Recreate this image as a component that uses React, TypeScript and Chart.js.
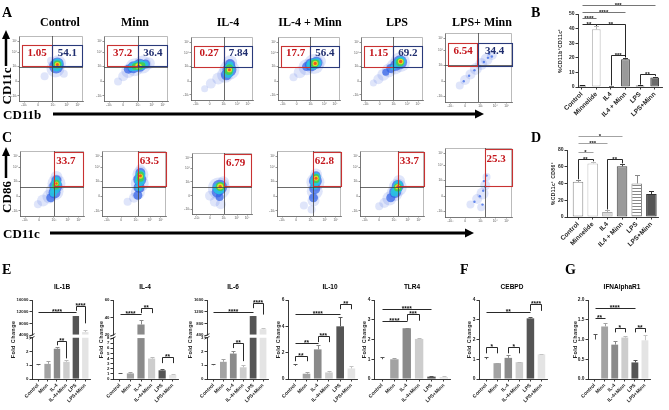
import React, { useEffect, useRef } from 'react';
import { Chart, registerables } from 'chart.js';

Chart.register(...registerables);

const SANS = '"Liberation Sans", Arial, sans-serif';
const SERIF = '"Liberation Serif", "Times New Roman", serif';

/* ======================= DATA ======================= */
// ---- Panel A : CD11b x CD11c flow plots
const aTitles = ['Control', 'Minn', 'IL-4', 'IL-4 + Minn', 'LPS', 'LPS+ Minn'];
const aRedValues = ['1.05', '37.2', '0.27', '17.7', '1.15', '6.54'];
const aBlueValues = ['54.1', '36.4', '7.84', '56.4', '69.2', '34.4'];
const aQuadX = [52, 53.5, 53.5, 52, 52, 49];
const aQuadY = [53, 53, 53, 53, 53, 53];
// ---- Panel C : CD11c x CD86 flow plots
const cRedValues = ['33.7', '63.5', '6.79', '62.8', '33.7', '25.3'];
const cQuadX = [53.5, 56, 53.5, 56, 59, 59];
const cQuadY = [45, 45, 45, 45, 45, 45];
const flowTickPos = [8, 30, 53, 75, 92];
const flowTickLabels = ['-10³', '0', '10³', '10⁴', '10⁵'];

// density blobs: [x %, y %, radius, density level]
type Blob = [number, number, number, number];
const aDensity: Blob[][] = [
  [[40,38,4,0],[70,42,4,0],[50,62,4,0],[57,50,9,0],[61,58,8,0],[58,53,7,1],[60,57,6.5,1],[59,54,5.5,2],[60,57,5.5,2],[60,56,4,3],[60,56,2.6,4],[60,56,1.5,5]],
  [[22,30,4,0],[30,38,5,0],[38,46,7,0],[48,52,9,0],[60,56,9,0],[70,58,6,0],[38,49,4.5,1],[46,52,6,1],[56,55,6.5,1],[65,57,4.5,1],[44,52,4,2],[51,54,5,2],[58,55,5,2],[64,56,3.5,2],[49,53,3.5,3],[55,54,4,3],[60,55,3,3],[53,54,2.6,4],[56,54,2,4],[54,54,1.5,5]],
  [[22,18,3.5,0],[32,26,5,0],[44,34,6,0],[55,40,8,0],[62,48,10,0],[63,60,7,0],[57,40,5.5,1],[62,48,7,1],[63,57,5,1],[60,43,5,2],[62,50,5.5,2],[63,56,3.5,2],[61,46,4,3],[62,51,3.5,3],[62,48,2.6,4],[62,48,1.5,5]],
  [[25,36,4,0],[35,44,6,0],[46,52,8,0],[58,57,10,0],[66,61,7,0],[46,53,4.5,1],[54,56,6.5,1],[62,59,6,1],[52,56,4,2],[57,57,5.5,2],[63,59,4.5,2],[59,58,4,3],[62,59,3,3],[60,58,2.6,4],[60,58,1.6,5]],
  [[20,27,3.5,0],[28,33,5,0],[36,40,6,0],[45,47,7,0],[54,53,8,0],[63,60,10,0],[40,44,3.5,1],[48,50,4.5,1],[56,55,5.5,1],[63,60,7,1],[52,52,3,2],[60,58,5,2],[64,61,5,2],[63,60,4,3],[64,61,2.8,4],[64,61,1.7,5]],
  [[22,24,4,0],[30,32,5,0],[38,40,5,0],[46,48,6,0],[54,55,6,0],[62,62,6,0],[70,68,5,0],[28,30,1.2,1],[36,38,1.2,1],[44,46,1.2,1],[52,52,1.2,1],[58,58,1.2,1],[64,64,1.2,1],[70,66,1.2,1],[66,70,1.2,1]],
];
const cDensity: Blob[][] = [
  [[28,18,4,0],[36,24,6,0],[46,30,7,0],[54,38,9,0],[57,50,9,0],[57,60,6,0],[48,28,4.5,1],[54,36,6,1],[56,46,6.5,1],[57,55,5,1],[52,35,3.5,2],[55,42,5,2],[57,50,5,2],[57,56,3,2],[56,46,3.5,3],[57,51,3,3],[57,50,2,4],[57,50,1.2,5]],
  [[40,22,4,0],[50,28,5,0],[56,36,7,0],[59,50,9,0],[60,64,8,0],[60,72,5,0],[56,32,4.5,1],[58,44,5.5,1],[59,56,6.5,1],[60,66,5,1],[58,44,3.5,2],[59,54,5,2],[60,63,5,2],[60,58,3.5,3],[60,63,3.5,3],[60,61,2.5,4],[60,62,1.5,5]],
  [[30,30,5,0],[38,20,5,0],[48,16,5,0],[45,42,11,0],[52,52,6,0],[42,36,5.5,1],[46,44,7.5,1],[46,28,4,1],[45,42,6,2],[48,46,4,2],[47,45,4.5,3],[47,45,3,4],[47,45,1.6,5]],
  [[42,16,4,0],[54,10,4,0],[57,24,6,0],[59,38,8,0],[60,52,9,0],[61,64,6,0],[57,28,4.5,1],[59,42,5.5,1],[60,54,6.5,1],[61,62,4.5,1],[59,46,3.5,2],[60,53,5,2],[61,60,4.5,2],[61,56,3.5,3],[61,60,3,3],[61,58,2.5,4],[61,58,1.5,5]],
  [[30,15,4,0],[38,20,5,0],[46,27,7,0],[54,35,8,0],[59,44,9,0],[61,54,6,0],[48,28,4.5,1],[55,37,6,1],[59,46,6,1],[54,36,4,2],[58,42,5,2],[60,48,4.5,2],[59,44,4,3],[59,45,2.6,4],[59,45,1.5,5]],
  [[38,18,4,0],[48,26,5,0],[56,34,6,0],[60,46,5,0],[62,58,4,0],[54,14,4,0],[44,22,1.2,1],[52,30,1.2,1],[57,38,1.2,1],[60,44,1.2,1],[58,52,1.2,1],[62,60,1.2,1],[56,18,1.2,1]],
];

// ---- Panels B / D
const bdCategories = ['Control', 'Minnelide', 'IL4', 'IL4 + Minn', 'LPS', 'LPS+Minn'];
const bValues = [1.0, 39.5, 0.3, 19.0, 1.0, 6.5];
const bErrors = [0.3, 2.0, 0.1, 0.8, 0.2, 0.6];
const bTicks = [0, 10, 20, 30, 40, 50];
const dValues = [42, 64, 6, 60.5, 40, 27.5];
const dErrors = [2, 2, 2, 3, 10, 3];
const dTicks = [0, 20, 40, 60, 80];

type Bracket = { a: number; b: number; y: number; d1?: number; d2?: number; t: string; c?: string };
const bBrackets: Bracket[] = [
  { a: 0, b: 5, y: 56, t: '***', c: '#666' },
  { a: 0, b: 3, y: 51.5, t: '****', c: '#666' },
  { a: 0, b: 1, y: 47, t: '****', c: '#666' },
  { a: 0, b: 1, y: 43, d2: 41.8, t: '**' },
  { a: 1, b: 3, y: 43, d2: 20.5, t: '**' },
  { a: 2, b: 3, y: 22, d1: 1, d2: 20.2, t: '***' },
  { a: 4, b: 5, y: 8.7, d1: 1.6, d2: 7.4, t: '**' },
];
const dBrackets: Bracket[] = [
  { a: 0, b: 3, y: 97, t: '*', c: '#999' },
  { a: 0, b: 2, y: 88, t: '***', c: '#999' },
  { a: 0, b: 1, y: 78, t: '*', c: '#999' },
  { a: 0, b: 1, y: 69, d1: 45, d2: 66.5, t: '**' },
  { a: 2, b: 3, y: 69, d1: 9, d2: 64, t: '**' },
];

// ---- Panels E / F / G (qPCR fold change)
const qCategories = ['Control', 'Minn', 'IL-4', 'IL-4+Minn', 'LPS', 'LPS+Minn'];
const il1bValues = [1, 1.1, 2.2, 1.25, 10500, 5000];
const il1bErrors = [0.12, 0.22, 0.15, 0.15, 150, 700];
const il1bLowTicks = [0, 1, 2, 3];
const il1bHighTicks = [4000, 8000, 12000, 16000];
const il1bBrackets: Bracket[] = [
  { a: 0, b: 4, y: 12000, t: '****' },
  { a: 4, b: 5, y: 14000, d1: 12300, d2: 8000, t: '****' },
  { a: 2, b: 3, y: 2.75, d1: 2.45, d2: 1.5, t: '**' },
];
const il4Values = [1, 1.1, 32, 4.0, 1.7, 0.8];
const il4Errors = [0.1, 0.35, 5, 0.3, 0.25, 0.25];
const il4LowTicks = [0, 1, 2, 3, 4, 5, 6, 7, 8];
const il4HighTicks = [20, 40, 60];
const il4Brackets: Bracket[] = [
  { a: 0, b: 2, y: 44, t: '****' },
  { a: 2, b: 3, y: 51, d1: 45, d2: 45, t: '**' },
  { a: 4, b: 5, y: 4.3, d1: 3.1, d2: 3.1, t: '**' },
];
const il6Values = [1, 1.25, 1.85, 0.85, 1050, 600];
const il6Errors = [0.12, 0.17, 0.2, 0.15, 12, 35];
const il6LowTicks = [0, 1, 2, 3];
const il6HighTicks = [400, 800, 1200, 1600];
const il6Brackets: Bracket[] = [
  { a: 0, b: 4, y: 1200, t: '****' },
  { a: 4, b: 5, y: 1500, d1: 1320, d2: 1100, t: '****' },
  { a: 2, b: 3, y: 2.6, d1: 2.25, d2: 1.3, t: '**' },
];
const il10Values = [1, 0.4, 2.25, 0.5, 4.0, 0.8];
const il10Errors = [0.12, 0.1, 0.3, 0.1, 0.7, 0.2];
const il10Ticks = [0, 2, 4, 6];
const il10Brackets: Bracket[] = [
  { a: 0, b: 4, y: 4.95, t: '****' },
  { a: 4, b: 5, y: 5.7, d1: 5.3, d2: 5.3, t: '**' },
  { a: 0, b: 2, y: 2.75, t: '**' },
  { a: 2, b: 3, y: 3.3, d1: 2.8, d2: 2.8, t: '***' },
  { a: 0, b: 1, y: 1.75, d1: 1.35, d2: 1.35, t: '**' },
];
const tlr4Values = [1, 1.0, 2.57, 2.03, 0.12, 0.1];
const tlr4Errors = [0.1, 0.08, 0.03, 0.06, 0.03, 0.04];
const tlr4Ticks = [0, 1, 2, 3, 4];
const tlr4Brackets: Bracket[] = [
  { a: 0, b: 4, y: 3.55, t: '****' },
  { a: 0, b: 2, y: 2.95, t: '****' },
  { a: 2, b: 3, y: 3.3, d1: 2.95, d2: 2.95, t: '***' },
];
const cebpdValues = [1, 0.8, 1.07, 0.85, 3.07, 1.25];
const cebpdErrors = [0.1, 0.03, 0.15, 0.02, 0.08, 0.04];
const cebpdTicks = [0, 1, 2, 3, 4];
const cebpdBrackets: Bracket[] = [
  { a: 0, b: 4, y: 3.4, t: '**' },
  { a: 4, b: 5, y: 3.8, d1: 3.45, d2: 3.45, t: '****' },
  { a: 0, b: 1, y: 1.6, d1: 1.3, d2: 1.3, t: '*' },
  { a: 2, b: 3, y: 1.6, d1: 1.3, d2: 1.3, t: '*' },
];
const ifnValues = [1, 1.33, 0.87, 1.05, 0.42, 0.98];
const ifnErrors = [0.15, 0.08, 0.09, 0.05, 0.07, 0.14];
const ifnTicks = [0, 0.5, 1, 1.5, 2];
const ifnBrackets: Bracket[] = [
  { a: 0, b: 4, y: 1.8, t: '****' },
  { a: 0, b: 1, y: 1.55, t: '**' },
  { a: 2, b: 3, y: 1.3, d1: 1.18, d2: 1.18, t: '*' },
  { a: 4, b: 5, y: 1.3, d1: 1.18, d2: 1.18, t: '**' },
];

/* ======================= STYLES ======================= */
const DENSITY_COLORS = [
  'rgba(80,110,225,0.18)',
  'rgba(45,95,230,0.7)',
  'rgba(40,195,225,0.9)',
  'rgba(70,205,80,0.95)',
  'rgba(235,225,40,0.95)',
  'rgba(240,80,30,0.95)',
];
const RED = '#c4161c';
const BLUE = '#1f2d6e';
const eFills = ['#ffffff', '#a3a3a3', '#8a8a8a', '#cdcdcd', '#555555', '#e4e4e4'];
const eErr = ['#555555', '#a3a3a3', '#8a8a8a', '#bbbbbb', '#555555', '#c4c4c4'];
const bFills = ['#ffffff', '#ffffff', '#d9d9d9', '#9a9a9a', '#ffffff', '#6b6b6b'];
const bBorders = ['#222222', '#b5b5b5', '#777777', '#333333', '#222222', '#333333'];
const dFills = ['#ffffff', '#ffffff', '#d9d9d9', '#9a9a9a', 'stripe', '#555555'];
const dBorders = ['#888888', '#c0c0c0', '#aaaaaa', '#444444', '#888888', '#333333'];

/* ======================= HELPERS ======================= */
const h = (v: number) => Math.round(v) + 0.5;

function stripePattern() {
  const c = document.createElement('canvas');
  c.width = 4; c.height = 3;
  const g = c.getContext('2d')!;
  g.fillStyle = '#fff'; g.fillRect(0, 0, 4, 3);
  g.fillStyle = '#888'; g.fillRect(0, 0, 4, 1);
  return g.createPattern(c, 'repeat');
}

type Brk = { lowTicks: number[]; lowMax: number; highTicks: number[]; lowWeight: number; highWeight: number };
type BarSpec = {
  L: number; R: number; T: number; B: number;
  mL: number; mT: number; mR: number; mB: number;
  cats: string[]; values: number[]; errors: number[];
  fills: string[]; borders: string[]; errColors: string[]; borderWidth: number;
  xMin: number; xMax: number; barPct: number; cap: number;
  yTicks?: number[]; brk?: Brk; brackets: Bracket[];
  yTitle: string; yTitleDx: number; yTitleSize: number;
  tickSize: number; labelSize: number; sigSize: number; fmt?: (v: number) => string;
};

function barConfig(p: BarSpec) {
  const lowCap = p.brk ? p.brk.lowTicks[p.brk.lowTicks.length - 1] : Infinity;
  const fills = p.fills.map((f) => (f === 'stripe' ? stripePattern() : f));
  const common = {
    grouped: false, barPercentage: p.barPct, categoryPercentage: 1,
    backgroundColor: fills, borderColor: p.borders, borderWidth: p.borderWidth, borderSkipped: false,
  };
  const datasets: any[] = [
    { ...common, yAxisID: p.brk ? 'yLow' : 'y', data: p.values.map((v, i) => ({ x: i, y: Math.min(v, lowCap) })) },
  ];
  if (p.brk) {
    datasets.push({
      ...common, yAxisID: 'yHigh', base: p.brk.highTicks[0],
      data: p.values.map((v, i) => ({ x: i, y: v > lowCap ? v : null })),
    });
  }
  const tickFont = { family: SANS, size: p.tickSize, weight: 'bold' as const };
  const grid = { display: true, drawOnChartArea: false, drawTicks: true, tickLength: 2.5, color: '#222', lineWidth: 0.9, offset: false };
  const border = { display: true, color: '#222', width: 0.9 };
  const yScale = (min: number, max: number, ticks: number[], extra: any = {}) => ({
    type: 'linear', position: 'left', min, max, beginAtZero: false, bounds: 'data',
    afterBuildTicks: (s: any) => { s.ticks = ticks.map((v) => ({ value: v })); },
    afterFit: (s: any) => { s.width = p.mL; },
    ticks: { font: tickFont, color: '#222', padding: 1, autoSkip: false, callback: (v: number) => (p.fmt ? p.fmt(v) : String(v)) },
    grid, border, ...extra,
  });
  const scales: any = {
    x: {
      type: 'linear', min: p.xMin, max: p.xMax, offset: false, bounds: 'data',
      afterBuildTicks: (s: any) => { s.ticks = p.cats.map((_, i) => ({ value: i })); },
      afterFit: (s: any) => { s.height = p.mB; },
      ticks: {
        autoSkip: false, maxRotation: 45, minRotation: 45, padding: 1,
        font: { family: SANS, size: p.labelSize, weight: 'bold' as const }, color: '#222',
        callback: (_v: number, i: number) => p.cats[i],
      },
      grid, border,
    },
  };
  if (p.brk) {
    const ht = p.brk.highTicks;
    scales.yHigh = yScale(ht[0], ht[ht.length - 1], ht, { stack: 'v', stackWeight: p.brk.highWeight, weight: 1 });
    scales.yLow = yScale(0, p.brk.lowMax, p.brk.lowTicks, { stack: 'v', stackWeight: p.brk.lowWeight, weight: 0 });
  } else {
    const t = p.yTicks!;
    scales.y = yScale(t[0], t[t.length - 1], t);
  }

  const extras = {
    id: 'barExtras',
    afterDatasetsDraw(chart: any) {
      const ctx = chart.ctx; const xs = chart.scales.x;
      const ys = (v: number) => (p.brk ? (v > lowCap ? chart.scales.yHigh : chart.scales.yLow) : chart.scales.y);
      ctx.save();
      ctx.lineWidth = 1;
      p.values.forEach((v, i) => {
        const e = p.errors[i];
        if (!e) return;
        const s = ys(v);
        const x = h(xs.getPixelForValue(i));
        const y0 = s.getPixelForValue(v);
        const y1 = h(s.getPixelForValue(v + e));
        ctx.strokeStyle = p.errColors[i];
        ctx.beginPath();
        ctx.moveTo(x, y0); ctx.lineTo(x, y1);
        ctx.moveTo(x - p.cap, y1); ctx.lineTo(x + p.cap, y1);
        ctx.stroke();
      });
      ctx.restore();
    },
    afterDraw(chart: any) {
      const ctx = chart.ctx; const ca = chart.chartArea; const xs = chart.scales.x;
      const ys = (v: number) => (p.brk ? (v > lowCap ? chart.scales.yHigh : chart.scales.yLow) : chart.scales.y);
      ctx.save();
      if (p.brk) {
        const yl = chart.scales.yLow; const yh = chart.scales.yHigh;
        const gTop = yh.bottom; const gBot = yl.getPixelForValue(lowCap);
        ctx.fillStyle = '#fff';
        ctx.fillRect(ca.left - 1.5, gTop + 0.6, 3, Math.max(gBot - gTop - 1.2, 0.5));
        ctx.strokeStyle = '#222'; ctx.lineWidth = 0.9;
        [gTop, gBot].forEach((yy) => {
          ctx.beginPath(); ctx.moveTo(ca.left - 2.5, yy + 1.3); ctx.lineTo(ca.left + 2.5, yy - 1.3); ctx.stroke();
        });
      }
      ctx.font = `bold ${p.sigSize}px ${SANS}`;
      ctx.textAlign = 'center'; ctx.textBaseline = 'alphabetic';
      ctx.lineWidth = 0.9;
      p.brackets.forEach((b) => {
        const x1 = xs.getPixelForValue(b.a); const x2 = xs.getPixelForValue(b.b);
        const yy = h(ys(b.y).getPixelForValue(b.y));
        const y1 = b.d1 === undefined ? yy : ys(b.d1).getPixelForValue(b.d1);
        const y2 = b.d2 === undefined ? yy : ys(b.d2).getPixelForValue(b.d2);
        ctx.strokeStyle = b.c || '#111';
        ctx.beginPath();
        ctx.moveTo(h(x1), y1); ctx.lineTo(h(x1), yy); ctx.lineTo(h(x2), yy); ctx.lineTo(h(x2), y2);
        ctx.stroke();
        ctx.fillStyle = '#111';
        ctx.fillText(b.t, (x1 + x2) / 2, yy + p.sigSize * 0.43 - 0.9);
      });
      ctx.translate(ca.left - p.yTitleDx, (ca.top + ca.bottom) / 2);
      ctx.rotate(-Math.PI / 2);
      ctx.font = `bold ${p.yTitleSize}px ${SANS}`;
      ctx.textAlign = 'center'; ctx.textBaseline = 'middle'; ctx.fillStyle = '#222';
      try { (ctx as any).letterSpacing = '0.4px'; } catch (e) { /* ignore */ }
      ctx.fillText(p.yTitle, 0, 0);
      ctx.restore();
    },
  };

  return {
    type: 'bar',
    data: { datasets },
    options: {
      responsive: false, animation: false, events: [],
      layout: { padding: { left: 0, top: p.mT, right: p.mR, bottom: 0 } },
      plugins: { legend: { display: false }, tooltip: { enabled: false }, title: { display: false } },
      scales,
    },
    plugins: [extras],
  };
}

/* ---- flow plots ---- */
const FP = { l: 9, t: 2, r: 2, b: 8 };
const PW = 71; const PH = 73;
type Gate = {
  qx: number; qy: number;
  boxes: { x1: number; x2: number; y1: number; y2: number; c: string }[];
  labels: { t: string; x: number; y: number; c: string; align: CanvasTextAlign }[];
};

function flowConfig(blobs: Blob[], g: Gate) {
  // higher density levels get a lower "order" so that they are painted on top
  const datasets = DENSITY_COLORS.map((col, l) => ({
    data: blobs.filter((b) => b[3] === l).map((b) => ({ x: b[0], y: b[1], r: b[2] })),
    backgroundColor: col, borderWidth: 0, clip: 0, order: DENSITY_COLORS.length - l,
  }));
  const tf = { family: SANS, size: 3.2 };
  const grid = { display: true, drawOnChartArea: false, drawTicks: true, tickLength: 1.5, color: '#666', lineWidth: 0.7 };
  const border = { display: true, color: '#555', width: 0.8 };
  const gatePlugin = {
    id: 'gate',
    afterDatasetsDraw(chart: any) {
      const { ctx, chartArea: ca, scales } = chart;
      const x = scales.x; const y = scales.y;
      ctx.save();
      ctx.strokeStyle = '#aaa'; ctx.lineWidth = 0.8;
      ctx.beginPath();
      ctx.moveTo(ca.left, ca.top + 0.5); ctx.lineTo(ca.right - 0.5, ca.top + 0.5); ctx.lineTo(ca.right - 0.5, ca.bottom);
      ctx.stroke();
      const qx = h(x.getPixelForValue(g.qx)); const qy = h(y.getPixelForValue(g.qy));
      ctx.strokeStyle = '#444'; ctx.lineWidth = 0.8;
      ctx.beginPath();
      ctx.moveTo(qx, ca.top); ctx.lineTo(qx, ca.bottom);
      ctx.moveTo(ca.left, qy); ctx.lineTo(ca.right, qy);
      ctx.stroke();
      ctx.lineWidth = 1.1;
      g.boxes.forEach((b) => {
        const x1 = x.getPixelForValue(b.x1); const x2 = x.getPixelForValue(b.x2);
        const y1 = y.getPixelForValue(b.y1); const y2 = y.getPixelForValue(b.y2);
        ctx.strokeStyle = b.c;
        ctx.strokeRect(h(x1), h(y2), Math.round(x2 - x1), Math.round(y1 - y2));
      });
      ctx.font = `bold 11px ${SERIF}`;
      ctx.textBaseline = 'middle';
      g.labels.forEach((l) => {
        ctx.fillStyle = l.c; ctx.textAlign = l.align;
        ctx.fillText(l.t, x.getPixelForValue(l.x), y.getPixelForValue(l.y));
      });
      ctx.restore();
    },
  };
  return {
    type: 'bubble',
    data: { datasets },
    options: {
      responsive: false, animation: false, events: [],
      layout: { padding: { left: 0, top: FP.t, right: FP.r, bottom: 0 } },
      plugins: { legend: { display: false }, tooltip: { enabled: false } },
      scales: {
        x: {
          type: 'linear', min: 0, max: 100, bounds: 'data',
          afterBuildTicks: (s: any) => { s.ticks = flowTickPos.map((v) => ({ value: v })); },
          afterFit: (s: any) => { s.height = FP.b; },
          ticks: { font: tf, color: '#555', padding: 0.5, maxRotation: 0, autoSkip: false, callback: (_v: number, i: number) => flowTickLabels[i] },
          grid, border,
        },
        y: {
          type: 'linear', min: 0, max: 100, bounds: 'data',
          afterBuildTicks: (s: any) => { s.ticks = flowTickPos.map((v) => ({ value: v })); },
          afterFit: (s: any) => { s.width = FP.l; },
          ticks: { font: tf, color: '#555', padding: 0.5, autoSkip: false, callback: (_v: number, i: number) => flowTickLabels[i] },
          grid, border,
        },
      },
    },
    plugins: [gatePlugin],
  };
}

function ChartBox({ left, top, width, height, make }: { left: number; top: number; width: number; height: number; make: () => any }) {
  const ref = useRef<HTMLCanvasElement>(null);
  useEffect(() => {
    const c = new Chart(ref.current as HTMLCanvasElement, make());
    return () => c.destroy();
  }, []);
  return <canvas ref={ref} width={width} height={height} style={{ position: 'absolute', left, top, width, height }} />;
}

function Txt({ x, y, s, size, font = SERIF, align = 'center', rot = 0, color = '#000' }: any) {
  const tx = align === 'center' ? '-50%' : align === 'right' ? '-100%' : '0';
  return (
    <div style={{
      position: 'absolute', left: x, top: y, transform: `translate(${tx}, -50%) rotate(${rot}deg)`,
      fontFamily: font, fontSize: size, fontWeight: 700, color, whiteSpace: 'nowrap', lineHeight: 1,
    }}>{s}</div>
  );
}

/* ======================= LAYOUT ======================= */
const aLefts = [19, 104, 190, 277, 360, 445];
const aTop = 29;
const cLefts = [20, 102, 190, 277, 360, 445];
const cTop = 144;
const aTitleX = [60, 135, 228, 310, 397, 482];

const E_COMMON = {
  T: 300, B: 379, mL: 24, mT: 14, mR: 5, mB: 32,
  cats: qCategories, fills: eFills, borders: eFills, errColors: eErr, borderWidth: 0,
  xMin: -0.65, xMax: 5.5, barPct: 0.68, cap: 2,
  yTitle: 'Fold Change', yTitleSize: 5.5, tickSize: 4.8, labelSize: 5, sigSize: 6.5,
};
const brkWeights = { lowWeight: 44, highWeight: 35 };

const eSpecs: (BarSpec & { title: string; tx: number })[] = [
  { ...E_COMMON, L: 32, R: 90, values: il1bValues, errors: il1bErrors, brk: { lowTicks: il1bLowTicks, lowMax: 3.2, highTicks: il1bHighTicks, ...brkWeights }, brackets: il1bBrackets, yTitleDx: 19, title: 'IL-1B', tx: 62, tickSize: 4.3 },
  { ...E_COMMON, L: 113, R: 178, values: il4Values, errors: il4Errors, brk: { lowTicks: il4LowTicks, lowMax: 8.6, highTicks: il4HighTicks, ...brkWeights }, brackets: il4Brackets, yTitleDx: 12, title: 'IL-4', tx: 145, tickSize: 4.3 },
  { ...E_COMMON, L: 207, R: 268, values: il6Values, errors: il6Errors, brk: { lowTicks: il6LowTicks, lowMax: 3.2, highTicks: il6HighTicks, ...brkWeights }, brackets: il6Brackets, yTitleDx: 17, title: 'IL-6', tx: 233, tickSize: 4.3 },
  { ...E_COMMON, L: 288, R: 357, values: il10Values, errors: il10Errors, yTicks: il10Ticks, brackets: il10Brackets, yTitleDx: 10, title: 'IL-10', tx: 330 },
  { ...E_COMMON, L: 374, R: 450, values: tlr4Values, errors: tlr4Errors, yTicks: tlr4Ticks, brackets: tlr4Brackets, yTitleDx: 10, title: 'TLR4', tx: 412 },
  { ...E_COMMON, L: 479, R: 547, values: cebpdValues, errors: cebpdErrors, yTicks: cebpdTicks, brackets: cebpdBrackets, yTitleDx: 10, title: 'CEBPD', tx: 512 },
  { ...E_COMMON, L: 588, R: 650, values: ifnValues, errors: ifnErrors, yTicks: ifnTicks, brackets: ifnBrackets, yTitleDx: 13, title: 'IFNAlphaR1', tx: 622, fmt: (v: number) => v.toFixed(1) },
];

const bSpec: BarSpec = {
  L: 578, R: 662, T: 14, B: 87, mL: 22, mT: 14, mR: 6, mB: 38,
  cats: bdCategories, values: bValues, errors: bErrors, fills: bFills, borders: bBorders, errColors: bBorders, borderWidth: 1,
  xMin: -0.25, xMax: 5.5, barPct: 0.6, cap: 2.5, yTicks: bTicks, brackets: bBrackets,
  yTitle: '%CD11b⁺CD11c⁺', yTitleDx: 17, yTitleSize: 5, tickSize: 5, labelSize: 6.5, sigSize: 6,
};
const dSpec: BarSpec = {
  L: 567, R: 658, T: 150, B: 217, mL: 22, mT: 22, mR: 6, mB: 38,
  cats: bdCategories, values: dValues, errors: dErrors, fills: dFills, borders: dBorders, errColors: dBorders, borderWidth: 1,
  xMin: -0.75, xMax: 5.45, barPct: 0.72, cap: 2.5, yTicks: dTicks, brackets: dBrackets,
  yTitle: '%CD11c⁺ CD86⁺', yTitleDx: 13, yTitleSize: 5, tickSize: 5, labelSize: 6.5, sigSize: 6,
};

function BarBox({ p }: { p: BarSpec }) {
  return (
    <ChartBox left={p.L - p.mL} top={p.T - p.mT} width={p.R - p.L + p.mL + p.mR} height={p.B - p.T + p.mT + p.mB} make={() => barConfig(p)} />
  );
}

export default function App() {
  return (
    <div style={{ position: 'fixed', left: 0, top: 0, width: 669, height: 410, background: '#fff', overflow: 'hidden' }}>
      {aDensity.map((blobs, i) => (
        <ChartBox key={'a' + i} left={aLefts[i] - FP.l} top={aTop - FP.t} width={PW + FP.l + FP.r} height={PH + FP.t + FP.b}
          make={() => flowConfig(blobs, {
            qx: aQuadX[i], qy: aQuadY[i],
            boxes: [
              { x1: 5, x2: aQuadX[i], y1: aQuadY[i], y2: 86, c: '#c83232' },
              { x1: aQuadX[i], x2: 99, y1: aQuadY[i], y2: 86, c: '#2a3a7a' },
            ],
            labels: [
              { t: aRedValues[i], x: (5 + aQuadX[i]) / 2, y: 74, c: RED, align: 'center' },
              { t: aBlueValues[i], x: (aQuadX[i] + 99) / 2, y: 74, c: BLUE, align: 'center' },
            ],
          })} />
      ))}
      {cDensity.map((blobs, i) => (
        <ChartBox key={'c' + i} left={cLefts[i] - FP.l} top={cTop - FP.t} width={PW + FP.l + FP.r} height={PH + FP.t + FP.b}
          make={() => flowConfig(blobs, {
            qx: cQuadX[i], qy: cQuadY[i],
            boxes: [{ x1: cQuadX[i], x2: 99, y1: cQuadY[i], y2: 98, c: '#c83232' }],
            labels: [{ t: cRedValues[i], x: cQuadX[i] + 3, y: 84, c: RED, align: 'left' }],
          })} />
      ))}
      <BarBox p={bSpec} />
      <BarBox p={dSpec} />
      {eSpecs.map((p, i) => <BarBox key={'e' + i} p={p} />)}

      <svg width={669} height={410} style={{ position: 'absolute', left: 0, top: 0, pointerEvents: 'none' }}>
        <line x1={53} y1={114} x2={476} y2={114} stroke="#000" strokeWidth={3} />
        <polygon points="475,109.5 484,114 475,118.5" fill="#000" />
        <line x1={6} y1={66} x2={6} y2={38} stroke="#000" strokeWidth={2.5} />
        <polygon points="2,39 6,30 10,39" fill="#000" />
        <line x1={50} y1={233} x2={466} y2={233} stroke="#000" strokeWidth={3} />
        <polygon points="465,228.5 474,233 465,237.5" fill="#000" />
        <line x1={6} y1={178} x2={6} y2={155} stroke="#000" strokeWidth={2.5} />
        <polygon points="2,156 6,147 10,156" fill="#000" />
      </svg>

      <Txt x={2} y={13} s="A" size={14} align="left" />
      {aTitles.map((t, i) => <Txt key={'at' + i} x={aTitleX[i]} y={22} s={t} size={12} />)}
      <Txt x={3} y={114} s="CD11b" size={13} align="left" />
      <Txt x={6} y={86} s="CD11c" size={13} rot={-90} />
      <Txt x={2} y={138} s="C" size={14} align="left" />
      <Txt x={6} y={197} s="CD86" size={13} rot={-90} />
      <Txt x={3} y={233} s="CD11c" size={13} align="left" />
      <Txt x={531} y={13} s="B" size={14} align="left" />
      <Txt x={531} y={138} s="D" size={14} align="left" />
      <Txt x={2} y={270} s="E" size={14} align="left" />
      <Txt x={460} y={270} s="F" size={14} align="left" />
      <Txt x={565} y={270} s="G" size={14} align="left" />
      {eSpecs.map((p, i) => <Txt key={'et' + i} x={p.tx} y={287} s={p.title} size={6.5} font={SANS} />)}
    </div>
  );
}
